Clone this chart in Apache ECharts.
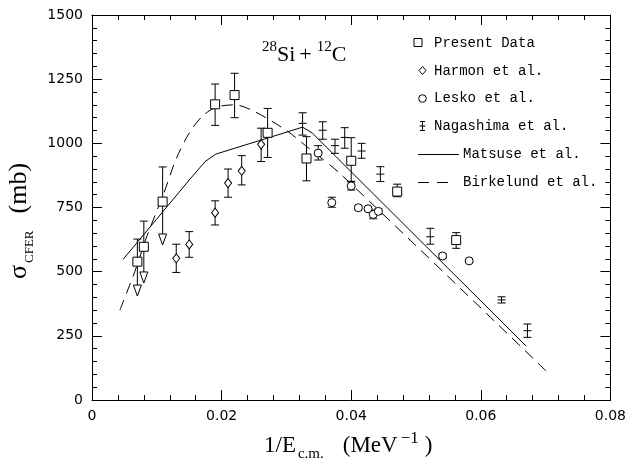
<!DOCTYPE html>
<html>
<head>
<meta charset="utf-8">
<script src="https://cdn.jsdelivr.net/npm/echarts@6/dist/echarts.min.js"></script>
<style>
  html, body { margin: 0; padding: 0; background: #fff; }
  #main { width: 629px; height: 458px; }
</style>
</head>
<body>
<div id="main"></div>
<script>
// present data (squares)
var presentX = [0.0070, 0.0080, 0.0109, 0.0190, 0.0220, 0.0271, 0.0331, 0.0400, 0.0471, 0.0562]
var presentY = [539, 597, 773, 1152, 1188, 1041, 941, 932, 812, 623]
var presentHi = [627, 697, 908, 1231, 1273, 1136, 1026, 1022, 841, 652]
var presentLo = [null, null, null, 1070, 1100, 945, 854, 850, 792, 591]
// upper limits drawn as arrows down to a triangle
var limitX = [0.0070, 0.0080, 0.0109]
var limitFrom = [539, 597, 773]
var limitTip = [405, 456, 604]

// Harmon et al. (diamonds)
var harmonX = [0.0130, 0.0150, 0.0190, 0.0210, 0.0231, 0.0261]
var harmonY = [552, 606, 730, 845, 893, 996]
var harmonHi = [607, 656, 776, 900, 952, 1059]
var harmonLo = [497, 556, 682, 790, 838, 929]

// Lesko et al. (circles)
var leskoX = [0.0349, 0.0370, 0.0400, 0.0411, 0.0426, 0.0434, 0.0442, 0.0541, 0.0582]
var leskoY = [962, 769, 834, 749, 745, 723, 735, 561, 542]
var leskoHi = [991, 790, 852, 757, 752, 740, 745, 570, 548]
var leskoLo = [935, 751, 818, 741, 738, 706, 725, 552, 536]

// Nagashima et al. (crosses)
var nagaX = [0.0325, 0.0356, 0.0375, 0.0390, 0.0416, 0.0445, 0.0522, 0.0632, 0.0672]
var nagaY = [1078, 1051, 991, 1023, 970, 880, 636, 390, 270]
var nagaHi = [1119, 1084, 1016, 1061, 1000, 909, 669, 402, 296]
var nagaLo = [1032, 1016, 961, 981, 942, 851, 607, 378, 244]

// Matsuse et al. (solid curve)
var matsuseX = [0.0048, 0.0150, 0.0175, 0.0191, 0.0260, 0.0325, 0.0340, 0.0670]
var matsuseY = [548, 857, 930, 958, 1012, 1063, 1040, 210]

// Birkelund et al. (dashed curve)
var birkX = [0.0043, 0.0066, 0.0085, 0.0110, 0.0130, 0.0150, 0.0170, 0.0191, 0.0220, 0.0250, 0.0300, 0.0330, 0.0385, 0.0702]
var birkY = [350, 500, 640, 800, 940, 1040, 1105, 1140, 1150, 1125, 1050, 990, 877, 110]

var serif = '"Liberation Serif", "DejaVu Serif", serif'
var sans = '"DejaVu Sans", sans-serif'
var legendFont = '14px "Liberation Mono"'
var black = '#000'

function pairs(xs, ys) {
  return xs.map(function (x, i) { return [x, ys[i]] })
}
function rows(xs, ys, lo, hi) {
  return xs.map(function (x, i) { return [x, ys[i], lo[i], hi[i]] })
}

// vertical error bar with caps; lo may be null (upper-limit points)
function errorBar(params, api) {
  var x = api.value(0)
  var y = api.value(1)
  var lo = api.value(2)
  var hi = api.value(3)
  var c = api.coord([x, y])
  var pHi = api.coord([x, hi])
  var st = { stroke: black, lineWidth: 1 }
  var w = 4
  var kids = [
    { type: 'line', shape: { x1: c[0], y1: c[1], x2: pHi[0], y2: pHi[1] }, style: st },
    { type: 'line', shape: { x1: pHi[0] - w, y1: pHi[1], x2: pHi[0] + w, y2: pHi[1] }, style: st }
  ]
  if (lo != null && !isNaN(lo)) {
    var pLo = api.coord([x, lo])
    kids.push({ type: 'line', shape: { x1: c[0], y1: c[1], x2: pLo[0], y2: pLo[1] }, style: st })
    kids.push({ type: 'line', shape: { x1: pLo[0] - w, y1: pLo[1], x2: pLo[0] + w, y2: pLo[1] }, style: st })
  }
  if (params.seriesName === 'nagaErr') {
    kids.push({ type: 'line', shape: { x1: c[0] - 4, y1: c[1], x2: c[0] + 4, y2: c[1] }, style: st })
  }
  return { type: 'group', children: kids }
}

// arrow from data point down to a hollow triangle
function limitArrow(params, api) {
  var x = api.value(0)
  var from = api.coord([x, api.value(1)])
  var tip = api.coord([x, api.value(2)])
  var h = 11
  var st = { stroke: black, lineWidth: 1 }
  return {
    type: 'group',
    children: [
      { type: 'line', shape: { x1: from[0], y1: from[1], x2: tip[0], y2: tip[1] - h }, style: st },
      {
        type: 'polygon',
        shape: { points: [[tip[0] - 4, tip[1] - h], [tip[0] + 4, tip[1] - h], [tip[0], tip[1]]] },
        style: { fill: '#fff', stroke: black, lineWidth: 1 }
      }
    ]
  }
}

var chart = echarts.init(document.getElementById('main'))

function valueAxis(pos, min, max, step, labels) {
  return {
    type: 'value',
    position: pos,
    min: min,
    max: max,
    interval: step,
    axisLine: { show: true, onZero: false, lineStyle: { color: black, width: 1 } },
    axisTick: { show: true, inside: true, length: 10, lineStyle: { color: black, width: 1 } },
    minorTick: { show: true, splitNumber: 5, length: 5, lineStyle: { color: black, width: 1 } },
    splitLine: { show: false },
    axisLabel: {
      show: labels, color: black, fontSize: 14, fontFamily: sans, margin: 9,
      formatter: function (v) { return String(+v.toFixed(3)) }
    }
  }
}

var hollow = { color: '#fff', borderColor: black, borderWidth: 1, opacity: 1 }

var option = {
  animation: false,
  backgroundColor: '#fff',
  grid: { left: 92, right: 15, top: 15, bottom: 58 },
  xAxis: [
    valueAxis('bottom', 0, 0.08, 0.02, true),
    valueAxis('top', 0, 0.08, 0.02, false)
  ],
  yAxis: [
    valueAxis('left', 0, 1500, 250, true),
    valueAxis('right', 0, 1500, 250, false)
  ],
  series: [
    {
      name: 'Matsuse et al.', type: 'line', data: pairs(matsuseX, matsuseY),
      showSymbol: false, lineStyle: { color: black, width: 1 }, z: 2
    },
    {
      name: 'Birkelund et al.', type: 'line', data: pairs(birkX, birkY), smooth: 0.3,
      showSymbol: false, lineStyle: { color: black, width: 1, type: [11, 7] }, z: 2
    },
    { name: 'presentErr', type: 'custom', renderItem: errorBar, data: rows(presentX, presentY, presentLo, presentHi), z: 3 },
    { name: 'harmonErr', type: 'custom', renderItem: errorBar, data: rows(harmonX, harmonY, harmonLo, harmonHi), z: 3 },
    { name: 'leskoErr', type: 'custom', renderItem: errorBar, data: rows(leskoX, leskoY, leskoLo, leskoHi), z: 3 },
    { name: 'nagaErr', type: 'custom', renderItem: errorBar, data: rows(nagaX, nagaY, nagaLo, nagaHi), z: 3 },
    {
      name: 'limits', type: 'custom', renderItem: limitArrow, z: 3,
      data: limitX.map(function (x, i) { return [x, limitFrom[i], limitTip[i]] })
    },
    {
      name: 'Present Data', type: 'scatter', data: pairs(presentX, presentY),
      symbol: 'rect', symbolSize: 9, itemStyle: hollow, z: 4
    },
    {
      name: 'Harmon et al.', type: 'scatter', data: pairs(harmonX, harmonY),
      symbol: 'diamond', symbolSize: [7, 9], itemStyle: hollow, z: 4
    },
    {
      name: 'Lesko et al.', type: 'scatter', data: pairs(leskoX, leskoY),
      symbol: 'circle', symbolSize: 8, itemStyle: hollow, z: 4
    }
  ],
  graphic: [
    // axis titles
    {
      type: 'text', left: 264, top: 430,
      style: {
        text: '{a|1/E}{s|c.m.}{g|(MeV}{p|−1}{a|)}',
        fill: black,
        rich: {
          a: { fontSize: 23, fontFamily: serif, lineHeight: 32, verticalAlign: 'middle' },
          g: { fontSize: 23, fontFamily: serif, lineHeight: 32, verticalAlign: 'middle', padding: [0, 0, 0, 19] },
          s: { fontSize: 15, fontFamily: serif, padding: [14, 0, 0, 2], verticalAlign: 'bottom' },
          p: { fontSize: 17, fontFamily: serif, padding: [0, 6, 14, 3], verticalAlign: 'top' }
        }
      }
    },
    {
      type: 'text', x: 2, y: 279, rotation: Math.PI / 2,
      style: {
        text: '{a|σ}{s|CFER}{g|(mb)}',
        fill: black,
        rich: {
          a: { fontSize: 26, fontFamily: serif, lineHeight: 34, verticalAlign: 'middle' },
          g: { fontSize: 26, fontFamily: serif, lineHeight: 34, verticalAlign: 'middle', padding: [0, 0, 0, 17] },
          s: { fontSize: 13, fontFamily: serif, padding: [16, 0, 0, 2], verticalAlign: 'bottom' }
        }
      }
    },
    // reaction label
    {
      type: 'text', left: 262, top: 40,
      style: {
        text: '{p|28}{a|Si}{b|+}{p|12}{a|C}',
        fill: black,
        rich: {
          a: { fontSize: 22, fontFamily: serif, lineHeight: 30, verticalAlign: 'middle' },
          b: { fontSize: 22, fontFamily: serif, lineHeight: 30, verticalAlign: 'middle', padding: [0, 5, 0, 4] },
          p: { fontSize: 15, fontFamily: serif, padding: [0, 0, 11, 0], verticalAlign: 'top' }
        }
      }
    },
    // legend
    { type: 'rect', shape: { x: 414, y: 38.5, width: 8, height: 8 }, style: { fill: '#fff', stroke: black, lineWidth: 1 } },
    { type: 'polygon', shape: { points: [[422.5, 66.5], [426, 70.5], [422.5, 74.5], [419, 70.5]] }, style: { fill: '#fff', stroke: black, lineWidth: 1 } },
    { type: 'circle', shape: { cx: 422.5, cy: 98.5, r: 3.8 }, style: { fill: '#fff', stroke: black, lineWidth: 1 } },
    { type: 'polyline', shape: { points: [[420, 121.5], [425, 121.5]] }, style: { stroke: black, lineWidth: 1 } },
    { type: 'polyline', shape: { points: [[420, 130.5], [425, 130.5]] }, style: { stroke: black, lineWidth: 1 } },
    { type: 'polyline', shape: { points: [[422.5, 121.5], [422.5, 130.5]] }, style: { stroke: black, lineWidth: 1 } },
    { type: 'polyline', shape: { points: [[419.5, 126], [425.5, 126]] }, style: { stroke: black, lineWidth: 1 } },
    { type: 'polyline', shape: { points: [[418, 154.5], [459, 154.5]] }, style: { stroke: black, lineWidth: 1 } },
    { type: 'polyline', shape: { points: [[418, 182.5], [429, 182.5]] }, style: { stroke: black, lineWidth: 1 } },
    { type: 'polyline', shape: { points: [[437, 182.5], [448, 182.5]] }, style: { stroke: black, lineWidth: 1 } },
    { type: 'text', x: 434, y: 43, style: { text: 'Present Data', fill: black, font: legendFont, verticalAlign: 'middle' } },
    { type: 'text', x: 434, y: 71, style: { text: 'Harmon et al.', fill: black, font: legendFont, verticalAlign: 'middle' } },
    { type: 'text', x: 434, y: 98.5, style: { text: 'Lesko et al.', fill: black, font: legendFont, verticalAlign: 'middle' } },
    { type: 'text', x: 434, y: 126, style: { text: 'Nagashima et al.', fill: black, font: legendFont, verticalAlign: 'middle' } },
    { type: 'text', x: 463, y: 154, style: { text: 'Matsuse et al.', fill: black, font: legendFont, verticalAlign: 'middle' } },
    { type: 'text', x: 463, y: 182, style: { text: 'Birkelund et al.', fill: black, font: legendFont, verticalAlign: 'middle' } }
  ]
}

chart.setOption(option)
</script>
</body>
</html>
